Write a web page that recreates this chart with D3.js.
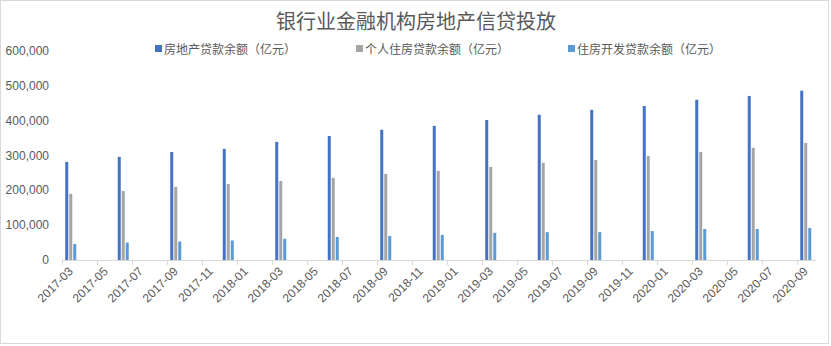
<!DOCTYPE html>
<html>
<head>
<meta charset="utf-8">
<script src="https://cdn.jsdelivr.net/npm/d3@7"></script>
<style>
  body { margin: 0; background: #fff; }
  svg text { font-family: "Liberation Sans", "Noto Sans CJK SC", sans-serif; fill: #595959; }
</style>
</head>
<body>
<svg id="chart" width="831" height="346"></svg>
<script>
// quarter ends that carry data
var quarters = ["2017-03","2017-06","2017-09","2017-12",
                "2018-03","2018-06","2018-09","2018-12",
                "2019-03","2019-06","2019-09","2019-12",
                "2020-03","2020-06","2020-09"];
// 亿元
var realEstateLoans = [281600,296000,310000,319000,339000,356000,374000,385000,
                       402000,417000,431000,442000,460000,471000,486000];
var personalHousing = [190000,198000,210000,218000,227000,236000,247000,256000,
                       267000,279000,287000,299000,310000,322000,336000];
var housingDevelopment = [46000,50000,53000,56000,61000,66000,69000,72000,
                          78000,80000,80000,83000,89000,89000,92000];
var seriesNames = ["房地产贷款余额（亿元）","个人住房贷款余额（亿元）","住房开发贷款余额（亿元）"];
var yTicks = [0,100000,200000,300000,400000,500000,600000];
var firstMonth = "2017-03", lastMonth = "2020-09";

var colors = ["#4472C4","#A5A5A5","#5B9BD5"];
var allSeries = [realEstateLoans, personalHousing, housingDevelopment];

var svg = d3.select("#chart");
var parse = d3.timeParse("%Y-%m"), fmt = d3.timeFormat("%Y-%m");

// monthly date axis, every month one slot
var months = d3.timeMonth.range(parse(firstMonth), d3.timeMonth.offset(parse(lastMonth), 1)).map(fmt);

var plotLeft = 62, plotRight = 814.5, plotBase = 260, plotTop = 51;

var x = d3.scaleBand().domain(months).range([plotLeft, plotRight]).padding(0);
var xs = d3.scaleBand().domain(d3.range(3)).range([0, x.bandwidth()])
    .paddingInner(0.25).paddingOuter(0.81);
var y = d3.scaleLinear().domain([0, 600000]).range([plotBase, plotTop]);

// outer border
svg.append("rect")
    .attr("x",0.5).attr("y",0.5).attr("width",828).attr("height",343)
    .attr("fill","none").attr("stroke","#d9d9d9");

// title
svg.append("text")
    .attr("x",416).attr("y",29)
    .attr("text-anchor","middle")
    .attr("font-size",20)
    .style("font-family","'Noto Sans CJK SC', sans-serif")
    .text("银行业金融机构房地产信贷投放");

// y labels
svg.selectAll(".ylab")
    .data(yTicks)
    .enter().append("text")
    .attr("class","ylab")
    .attr("x",49)
    .attr("y",function(d){ return y(d) + 4; })
    .attr("text-anchor","end")
    .attr("font-size",12)
    .text(d3.format(","));

// bars
var groups = svg.selectAll(".grp")
    .data(quarters)
    .enter().append("g")
    .attr("class","grp")
    .attr("transform",function(d){ return "translate(" + x(d) + ",0)"; });

groups.selectAll("rect")
    .data(function(d,i){ return allSeries.map(function(s,k){ return {k:k, v:s[i]}; }); })
    .enter().append("rect")
    .attr("x",function(d){ return xs(d.k); })
    .attr("y",function(d){ return y(d.v); })
    .attr("width",xs.bandwidth())
    .attr("height",function(d){ return plotBase - y(d.v); })
    .attr("fill",function(d){ return colors[d.k]; });

// x axis line and ticks every 2 months
var tickMonths = months.filter(function(d,i){ return i % 2 === 0; });

svg.append("line")
    .attr("x1",plotLeft).attr("x2",plotRight+1.5)
    .attr("y1",plotBase+0.5).attr("y2",plotBase+0.5)
    .attr("stroke","#d9d9d9");

svg.selectAll(".xtick")
    .data(tickMonths)
    .enter().append("line")
    .attr("class","xtick")
    .attr("x1",function(d){ return Math.round(x(d)) + 0.5; })
    .attr("x2",function(d){ return Math.round(x(d)) + 0.5; })
    .attr("y1",plotBase).attr("y2",plotBase+5)
    .attr("stroke","#d9d9d9");

svg.selectAll(".xlab")
    .data(tickMonths)
    .enter().append("text")
    .attr("class","xlab")
    .attr("text-anchor","end")
    .attr("font-size",12)
    .attr("transform",function(d){
        return "translate(" + (x(d) + x.bandwidth()/2 + 3) + "," + 272 + ") rotate(-45)";
    })
    .text(function(d){ return d; });

// legend
var legendX = [155, 356, 568];
var legend = svg.selectAll(".leg")
    .data(seriesNames)
    .enter().append("g")
    .attr("class","leg")
    .attr("transform",function(d,i){ return "translate(" + legendX[i] + ",49)"; });

legend.append("rect")
    .attr("x",0).attr("y",-4).attr("width",7).attr("height",7)
    .attr("fill",function(d,i){ return colors[i]; });

legend.append("text")
    .attr("x",9).attr("y",4.5)
    .attr("font-size",12)
    .style("font-family","'Noto Sans CJK SC', sans-serif")
    .text(function(d){ return d; });
</script>
</body>
</html>
